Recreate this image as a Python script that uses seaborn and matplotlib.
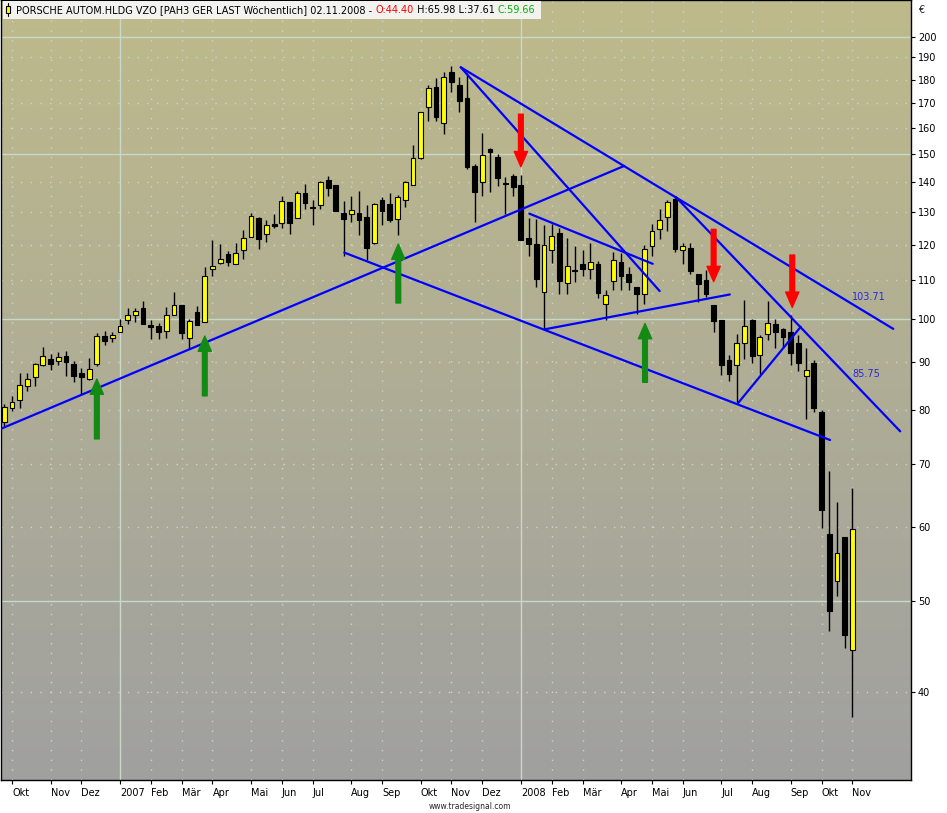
import numpy as np
import pandas as pd
import matplotlib
matplotlib.use("Agg")
import matplotlib.pyplot as plt
from matplotlib.patches import Rectangle
from matplotlib.lines import Line2D
from matplotlib.ticker import FixedLocator, FixedFormatter, NullLocator
import seaborn as sns

# --- Weekly bars (dated by the Sunday closing the week) ---
bar_dates = pd.date_range(end="2008-11-02", periods=111, freq="W-SUN")

opens = [77.7, 80.3, 81.9, 84.8, 86.7, 89.4, 90.6, 90.3, 91.3, 89.5,
         87.6, 86.4, 89.6, 95.8, 95.5, 96.8, 99.8, 101.1, 102.7, 98.5,
         98.3, 97.0, 100.9, 103.5, 95.4, 101.7, 99.2, 113.0, 114.6, 117.2,
         114.4, 118.4, 122.2, 128.0, 123.2, 126.2, 126.5, 133.1, 128.0, 136.4,
         131.7, 132.2, 140.8, 138.9, 129.7, 129.5, 129.6, 128.4, 120.6, 133.9,
         132.6, 127.7, 133.8, 138.8, 148.5, 168.1, 176.9, 161.6, 183.3, 177.8,
         171.9, 145.4, 139.8, 151.6, 149.0, 139.6, 142.0, 138.8, 122.0, 120.2,
         106.8, 118.4, 123.5, 109.1, 112.8, 114.4, 113.1, 114.4, 103.7, 109.7,
         115.0, 111.6, 108.1, 106.2, 119.6, 124.6, 128.3, 134.4, 118.4, 118.9,
         111.6, 110.0, 103.4, 99.7, 90.4, 89.3, 94.2, 99.8, 91.5, 96.3,
         98.7, 97.5, 96.8, 94.2, 86.9, 89.7, 79.5, 59.0, 52.6, 58.6,
         44.40]
highs = [81.2, 82.8, 87.5, 87.5, 89.8, 93.4, 91.8, 92.2, 92.4, 90.2,
         88.6, 90.8, 96.7, 97.1, 96.9, 99.9, 102.7, 102.7, 104.5, 99.8,
         99.1, 103.0, 106.8, 103.5, 99.9, 103.2, 113.6, 121.4, 120.2, 118.2,
         120.5, 124.4, 129.7, 128.6, 127.4, 129.3, 135.1, 133.1, 136.8, 139.4,
         133.9, 140.3, 142.0, 138.9, 133.6, 135.2, 136.9, 132.3, 132.9, 135.0,
         136.2, 135.6, 140.3, 153.2, 166.2, 177.8, 180.5, 183.3, 186.1, 181.1,
         182.8, 146.4, 157.8, 152.0, 150.1, 141.7, 142.8, 142.3, 128.1, 127.9,
         125.9, 126.4, 125.0, 122.0, 119.6, 118.4, 120.5, 115.2, 107.4, 117.8,
         117.7, 113.5, 108.1, 119.8, 126.4, 130.9, 133.9, 135.0, 120.4, 120.4,
         111.6, 112.7, 103.4, 99.7, 91.5, 96.3, 104.7, 99.9, 96.1, 104.4,
         99.9, 97.7, 100.9, 96.1, 93.1, 90.4, 79.9, 68.9, 63.8, 58.6,
         65.98]
lows = [76.9, 79.8, 80.4, 83.7, 84.9, 89.0, 88.2, 89.3, 87.0, 85.7,
        83.2, 86.1, 89.1, 93.7, 94.4, 96.8, 98.7, 99.3, 98.8, 95.3,
        95.2, 95.5, 100.9, 95.3, 92.9, 98.6, 99.2, 111.0, 114.4, 113.9,
        114.4, 115.9, 122.2, 118.6, 120.9, 125.1, 125.1, 123.3, 128.0, 131.0,
        125.8, 131.1, 135.3, 130.2, 116.8, 127.0, 122.9, 115.5, 120.1, 125.9,
        127.0, 122.8, 131.6, 138.8, 148.2, 162.4, 162.7, 157.6, 174.6, 166.4,
        144.4, 127.0, 135.3, 136.6, 138.7, 129.4, 135.3, 121.5, 116.6, 108.2,
        97.5, 114.6, 106.2, 106.2, 109.6, 111.1, 110.4, 105.4, 99.8, 107.5,
        107.5, 107.5, 101.2, 103.7, 116.6, 121.8, 124.0, 117.9, 114.5, 111.6,
        104.2, 105.6, 96.8, 87.2, 85.9, 81.5, 90.7, 89.7, 87.4, 95.0,
        93.1, 93.1, 89.3, 88.1, 78.3, 79.5, 59.8, 46.5, 50.7, 44.6,
        37.61]
closes = [80.5, 81.5, 85.0, 86.3, 89.5, 91.3, 89.6, 91.2, 89.9, 86.9,
          86.8, 88.4, 95.9, 94.8, 96.1, 98.3, 101.0, 102.0, 98.8, 98.1,
          96.9, 100.9, 103.4, 96.5, 99.4, 98.6, 111.0, 114.0, 116.0, 114.9,
          117.7, 121.9, 128.7, 121.6, 125.9, 125.5, 133.5, 126.5, 136.4, 132.8,
          131.3, 139.8, 138.0, 130.4, 127.9, 130.7, 127.6, 119.1, 132.6, 130.4,
          127.6, 134.8, 139.9, 148.3, 166.2, 176.4, 164.3, 181.0, 178.7, 170.9,
          145.3, 136.6, 149.4, 150.6, 141.2, 139.2, 138.1, 121.5, 120.3, 110.4,
          119.8, 122.5, 109.7, 113.8, 112.4, 113.1, 114.9, 106.7, 106.0, 115.5,
          111.2, 109.4, 106.2, 118.6, 124.0, 127.4, 133.1, 118.8, 119.5, 112.6,
          108.9, 106.4, 99.4, 89.3, 87.3, 94.2, 98.2, 91.3, 95.6, 99.0,
          96.8, 95.6, 91.9, 89.7, 88.2, 80.3, 62.6, 48.8, 56.3, 46.0,
          59.66]

# --- Axis ticks ---
price_ticks = [40, 50, 60, 70, 80, 90, 100, 110, 120, 130, 140, 150,
               160, 170, 180, 190, 200]
solid_levels = [50, 100, 150, 200]
month_names = ["", "Jan", "Feb", "Mär", "Apr", "Mai", "Jun", "Jul",
               "Aug", "Sep", "Okt", "Nov", "Dez"]

# --- Trend lines (bar index, price) ---
trend_names = ["support", "top_flat", "top_steep", "may_high",
               "lower_support", "flag_top", "flag_bottom", "autumn_leg"]
trend_start_bar = [-0.56, 59.2, 59.2, 87.1, 44.1, 68.1, 70.1, 95.2]
trend_start_price = [76.3, 185.5, 185.5, 134.9, 117.7, 129.5, 97.5, 81.4]
trend_end_bar = [80.4, 115.3, 85.0, 116.2, 107.1, 84.1, 94.1, 103.3]
trend_end_price = [145.6, 97.6, 107.1, 75.9, 74.3, 114.5, 106.2, 98.1]

line_label_names = ["top_flat", "may_high"]
line_label_texts = ["103.71", "85.75"]

# --- Signal arrows (bar index, tip price, tail price) ---
buy_bar = [12.0, 26.0, 51.1, 83.1]
buy_tip = [86.3, 95.9, 120.2, 98.9]
buy_tail = [74.5, 82.8, 104.0, 85.6]
sell_bar = [67.0, 92.0, 102.2]
sell_tip = [145.3, 109.6, 102.9]
sell_tail = [165.3, 124.6, 117.0]

title_parts = [
    ("PORSCHE AUTOM.HLDG VZO [PAH3 GER LAST Wöchentlich] 02.11.2008 - ", "black"),
    ("O:44.40", "#ff0000"),
    (" H:65.98 L:37.61 ", "black"),
    ("C:59.66", "#00b400"),
]

W, H = 947, 813
FS = 7

sns.set_theme(style="white")
plt.rcParams["font.family"] = ["DejaVu Sans"]

fig = plt.figure(figsize=(W / 100, H / 100), dpi=100)
fig.patch.set_facecolor("white")
pos = [1 / W, 33 / H, 910 / W, 780 / H]

# gradient background on its own axes
bg = fig.add_axes(pos, zorder=0)
t = np.linspace(0, 1, 256)[:, None, None]
top_col = np.array([190, 186, 139]) / 255
bot_col = np.array([160, 160, 160]) / 255
bg.imshow(top_col * (1 - t) + bot_col * t, aspect="auto", extent=[0, 1, 0, 1])
bg.axis("off")

ax = fig.add_axes(pos, zorder=1)
ax.patch.set_alpha(0)
ax.set_yscale("log")

idx = np.arange(len(closes))
o, h, l, c = (np.asarray(v, dtype=float) for v in (opens, highs, lows, closes))

# grid
grid_col = "#c9d9c9"
for lvl in price_ticks:
    ls = "-" if lvl in solid_levels else (0, (1, 6))
    ax.axhline(lvl, color=grid_col, lw=1, ls=ls, zorder=1)

months = bar_dates.to_period("M")
month_start = [i for i in range(1, len(months)) if months[i] != months[i - 1]]
month_labels = []
for i in month_start:
    d = bar_dates[i]
    month_labels.append(str(d.year) if d.month == 1 else month_names[d.month])
    ls = "-" if d.month == 1 else (0, (1, 6))
    ax.axvline(i, color=grid_col, lw=1, ls=ls, zorder=1)

# candles
ax.vlines(idx, l, h, color="black", lw=1, zorder=3)
body_low = np.minimum(o, c)
body_h = np.maximum(np.abs(c - o), 0.05)
body_col = np.where(c >= o, "#ffff00", "#000000")
ax.bar(idx, body_h, bottom=body_low, width=0.62, color=body_col,
       edgecolor="black", linewidth=0.8, zorder=4)

# trend lines
trend_df = pd.DataFrame({
    "line": np.repeat(trend_names, 2),
    "bar": np.ravel(np.column_stack([trend_start_bar, trend_end_bar])),
    "price": np.ravel(np.column_stack([trend_start_price, trend_end_price])),
})
sns.lineplot(data=trend_df, x="bar", y="price", units="line", estimator=None,
             sort=False, color="#0000ff", lw=1.6, ax=ax, legend=False, zorder=5)

last_bar = idx[-1]
for name, text in zip(line_label_names, line_label_texts):
    k = trend_names.index(name)
    x0, x1 = trend_start_bar[k], trend_end_bar[k]
    p0, p1 = np.log(trend_start_price[k]), np.log(trend_end_price[k])
    val = np.exp(p0 + (p1 - p0) * (last_bar - x0) / (x1 - x0))
    ax.annotate(text, xy=(last_bar, val), xytext=(0, 1.5), textcoords="offset points",
                ha="left", va="bottom", fontsize=FS, color="#2a2ad8", zorder=6)

# arrows
for b, tip, tail in zip(buy_bar, buy_tip, buy_tail):
    ax.annotate("", xy=(b, tip), xytext=(b, tail), zorder=6,
                arrowprops=dict(facecolor="#138a13", edgecolor="#138a13",
                                width=3.4, headwidth=9.5, headlength=11, shrink=0))
for b, tip, tail in zip(sell_bar, sell_tip, sell_tail):
    ax.annotate("", xy=(b, tip), xytext=(b, tail), zorder=6,
                arrowprops=dict(facecolor="#ff0000", edgecolor="#ff0000",
                                width=3.4, headwidth=9.5, headlength=11, shrink=0))

ax.set_xlim(-0.43, 117.6)
ax.set_ylim(32.25, 218.8)
ax.set_xlabel("")
ax.set_ylabel("")

ax.yaxis.tick_right()
ax.yaxis.set_major_locator(FixedLocator(price_ticks))
ax.yaxis.set_major_formatter(FixedFormatter([str(v) for v in price_ticks]))
ax.yaxis.set_minor_locator(NullLocator())
ax.tick_params(axis="y", which="major", direction="out", length=3, width=0.8,
               pad=2, labelsize=FS, colors="black", right=True, left=False)
ax.set_xticks(month_start)
ax.set_xticklabels(month_labels, ha="left")
ax.tick_params(axis="x", direction="out", length=3, width=0.8, pad=3,
               labelsize=FS, colors="black", bottom=True)
for sp in ax.spines.values():
    sp.set_color("black")
    sp.set_linewidth(1)

# header box with instrument caption
fig.add_artist(Rectangle((3 / W, 1 - 19 / H), 538 / W, 18 / H, transform=fig.transFigure,
                         facecolor="#f2f2ee", edgecolor="none", zorder=10))
fig.add_artist(Line2D([8 / W, 8 / W], [1 - 3 / H, 1 - 16 / H], transform=fig.transFigure,
                      color="black", lw=0.8, zorder=11))
fig.add_artist(Rectangle((6 / W, 1 - 13 / H), 4 / W, 7 / H, transform=fig.transFigure,
                         facecolor="#ffff00", edgecolor="black", lw=0.8, zorder=12))
renderer = fig.canvas.get_renderer()
xpix = 16
for seg, col in title_parts:
    txt = fig.text(xpix / W, 1 - 10 / H, seg, color=col, fontsize=FS, ha="left",
                   va="center", zorder=13)
    xpix += txt.get_window_extent(renderer).width

fig.text(918 / W, 1 - 10 / H, "€", fontsize=FS, ha="left", va="center")
fig.text(470 / W, 1 - 806 / H, "www.tradesignal.com", fontsize=5.5, ha="center", va="center")

fig.savefig("out.png", dpi=100)
